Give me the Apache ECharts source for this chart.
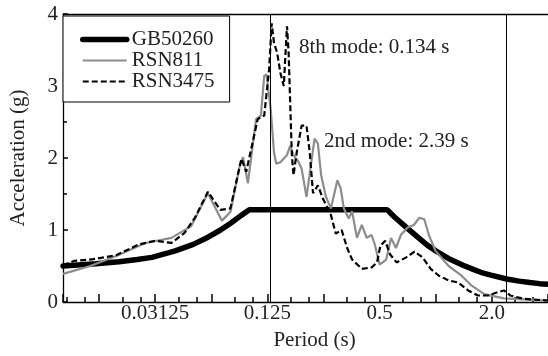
<!DOCTYPE html>
<html>
<head>
<meta charset="utf-8">
<script src="https://cdn.jsdelivr.net/npm/echarts@6/dist/echarts.min.js"></script>
<style>
html, body { margin: 0; padding: 0; background: #fff; }
#chart { width: 548px; height: 356px; }
</style>
</head>
<body>
<div id="chart"></div>
<script>
// periods (s) and spectral accelerations (g)
var gbPeriod = [0.01, 0.015, 0.02, 0.025, 0.03, 0.04, 0.05, 0.06, 0.07, 0.08, 0.09, 0.1,
    0.55, 0.6, 0.7, 0.8, 0.9, 1.0, 1.2, 1.4, 1.6, 1.8, 2.0, 2.4, 2.8, 3.2, 3.6, 4.0];
var gbAcc = [0.50, 0.53, 0.56, 0.59, 0.62, 0.71, 0.80, 0.90, 1.00, 1.10, 1.20, 1.28,
    1.28, 1.18, 1.03, 0.90, 0.79, 0.71, 0.59, 0.51, 0.45, 0.40, 0.37, 0.32, 0.29, 0.27, 0.255, 0.245];

var rsn811Period = [0.01, 0.014, 0.0193, 0.0277, 0.0382, 0.0486, 0.0599, 0.0712, 0.0791, 0.0889,
    0.0925, 0.0982, 0.1086, 0.1153, 0.1201, 0.1235, 0.1301, 0.1355, 0.1393, 0.1467,
    0.1591, 0.1655, 0.1725, 0.1832, 0.1906, 0.2025, 0.2237, 0.2331, 0.2426, 0.2576,
    0.2737, 0.2966, 0.3087, 0.3212, 0.3411, 0.3555, 0.3775, 0.401, 0.4259, 0.4524,
    0.4708, 0.5, 0.542, 0.5757, 0.6115, 0.6495, 0.7033, 0.7624, 0.8166, 0.8674,
    0.921, 0.997, 1.172, 1.376, 1.552, 1.822, 2.32, 4.0];
var rsn811Acc = [0.39, 0.50, 0.64, 0.82, 0.89, 1.05, 1.51, 1.13, 1.25, 1.90,
    2.01, 1.65, 2.54, 2.59, 3.14, 3.16, 2.68, 2.08, 1.92, 1.94,
    2.04, 2.17, 2.04, 1.95, 1.85, 1.46, 2.27, 2.20, 1.76, 1.46,
    1.30, 1.69, 1.58, 1.30, 1.16, 1.26, 0.89, 1.07, 0.89, 0.93,
    0.80, 0.52, 0.59, 0.89, 0.75, 0.93, 1.03, 1.07, 1.17, 1.15,
    0.92, 0.71, 0.50, 0.365, 0.23, 0.11, 0.05, 0.02];

var rsn3475Period = [0.01, 0.01145, 0.01458, 0.0193, 0.02555, 0.03125, 0.0382, 0.0449, 0.051, 0.0599,
    0.0698, 0.0791, 0.0906, 0.0962, 0.1108, 0.1201, 0.1276, 0.1317, 0.1355, 0.141,
    0.1467, 0.1529, 0.1591, 0.1624, 0.1655, 0.169, 0.1725, 0.1795, 0.1906, 0.2025,
    0.2107, 0.2195, 0.2331, 0.2476, 0.2737, 0.2906, 0.3124, 0.3347, 0.3555, 0.401,
    0.4524, 0.484, 0.5043, 0.5355, 0.5687, 0.616, 0.6946, 0.7689, 0.8497, 0.939,
    1.039, 1.172, 1.323, 1.492, 1.683, 1.899, 2.142, 2.32, 2.514, 2.95, 4.0];
var rsn3475Acc = [0.51, 0.57, 0.595, 0.65, 0.80, 0.85, 0.82, 0.96, 1.17, 1.53,
    1.28, 1.30, 1.99, 1.81, 2.54, 2.59, 3.23, 3.87, 3.60, 3.46,
    3.18, 3.00, 3.83, 3.46, 2.77, 2.04, 1.76, 2.08, 2.45, 2.45,
    2.08, 1.51, 1.62, 1.44, 1.21, 0.95, 1.00, 0.75, 0.59, 0.46,
    0.48, 0.55, 0.78, 0.85, 0.66, 0.55, 0.62, 0.70, 0.62, 0.46,
    0.365, 0.30, 0.27, 0.16, 0.09, 0.09, 0.135, 0.16, 0.09, 0.045, 0.02];

// labelled x ticks (log2 exponent -> text)
var xTickLabels = { '-5': '0.03125', '-3': '0.125', '-1': '0.5', '1': '2.0' };
// modal periods marked with vertical lines
var modePeriod = [0.134, 2.39];
var modeText = ['8th mode: 0.134 s', '2nd mode: 2.39 s'];

var FONT = '"Liberation Serif", "Times New Roman", serif';
var TXT = '#222';
var GRAY = '#8c8c8c';

function pairs(xs, ys) {
    var out = [];
    for (var i = 0; i < xs.length; i++) {
        out.push([xs[i], ys[i]]);
    }
    return out;
}

var myChart = echarts.init(document.getElementById('chart'), null, { renderer: 'canvas' });

var option = {
    animation: false,
    backgroundColor: '#fff',
    grid: {
        left: 57,
        top: 14,
        width: 495.5,
        height: 290.5
    },
    legend: {
        orient: 'vertical',
        left: 63,
        top: 16,
        backgroundColor: '#fff',
        borderColor: '#000',
        borderWidth: 1,
        padding: [13, 15, 10, 17],
        itemWidth: 44,
        itemHeight: 14,
        itemGap: 0,
        itemStyle: { opacity: 0 },
        textStyle: { fontFamily: FONT, fontSize: 21, color: TXT, lineHeight: 21 },
        data: [
            { name: 'GB50260', lineStyle: { width: 5.5, cap: 'round' } },
            { name: 'RSN811', lineStyle: { width: 2.2 } },
            { name: 'RSN3475', lineStyle: { width: 2.2 } }
        ]
    },
    xAxis: [
        {
            type: 'log',
            logBase: 2,
            min: 0.01,
            max: 4,
            splitNumber: 9,
            name: 'Period (s)',
            nameLocation: 'middle',
            nameGap: 28,
            nameTextStyle: { fontFamily: FONT, fontSize: 21, color: TXT, padding: [0, 0, 0, 18] },
            axisLine: { show: true, lineStyle: { color: '#000', width: 1.3 } },
            axisTick: { show: true, inside: true, length: 8, lineStyle: { color: '#000', width: 1.5 } },
            minorTick: { show: true, splitNumber: 3, length: 5, lineStyle: { color: '#000', width: 1.5 } },
            splitLine: { show: false },
            minorSplitLine: { show: false },
            axisLabel: {
                fontFamily: FONT,
                fontSize: 21,
                color: TXT,
                margin: 1,
                showMinLabel: false,
                showMaxLabel: false,
                formatter: function (v) {
                    var e = Math.log(v) / Math.LN2;
                    var r = Math.round(e);
                    if (Math.abs(e - r) > 1e-6) return '';
                    return xTickLabels[String(r)] || '';
                }
            }
        },
        {
            // top frame line
            type: 'log',
            logBase: 2,
            min: 0.01,
            max: 4,
            position: 'top',
            axisLine: { show: true, lineStyle: { color: '#000', width: 1.3 } },
            axisTick: { show: false },
            axisLabel: { show: false },
            splitLine: { show: false }
        }
    ],
    yAxis: {
        type: 'value',
        min: 0,
        max: 4,
        interval: 1,
        name: 'Acceleration (g)',
        nameLocation: 'middle',
        nameGap: 34,
        nameTextStyle: { fontFamily: FONT, fontSize: 21, color: TXT },
        axisLine: { show: true, lineStyle: { color: '#000', width: 1.3 } },
        axisTick: { show: true, inside: true, length: 5, lineStyle: { color: '#000', width: 1.5 } },
        minorTick: { show: true, splitNumber: 2, length: 4, lineStyle: { color: '#000', width: 1.5 } },
        splitLine: { show: false },
        axisLabel: { fontFamily: FONT, fontSize: 21, color: TXT, margin: 5 }
    },
    graphic: [
        {
            type: 'text', left: 299, top: 37, z: 100,
            style: { text: modeText[0], fontFamily: FONT, fontSize: 21, fill: TXT }
        },
        {
            type: 'text', left: 324, top: 131, z: 100,
            style: { text: modeText[1], fontFamily: FONT, fontSize: 21, fill: TXT }
        }
    ],
    series: [
        {
            name: 'GB50260',
            type: 'line',
            symbol: 'none',
            z: 2,
            lineStyle: { color: '#000', width: 5.5, cap: 'round' },
            itemStyle: { color: '#000' },
            data: pairs(gbPeriod, gbAcc),
            markLine: {
                silent: true,
                symbol: 'none',
                label: { show: false },
                lineStyle: { color: '#000', width: 1, type: 'solid' },
                data: [{ xAxis: modePeriod[0] }, { xAxis: modePeriod[1] }]
            }
        },
        {
            name: 'RSN811',
            type: 'line',
            symbol: 'none',
            z: 3,
            lineStyle: { color: GRAY, width: 2.2 },
            itemStyle: { color: GRAY },
            data: pairs(rsn811Period, rsn811Acc)
        },
        {
            name: 'RSN3475',
            type: 'line',
            symbol: 'none',
            z: 4,
            lineStyle: { color: '#000', width: 2.2, type: [6, 3] },
            itemStyle: { color: '#000' },
            data: pairs(rsn3475Period, rsn3475Acc)
        }
    ]
};

myChart.setOption(option);
</script>
</body>
</html>
